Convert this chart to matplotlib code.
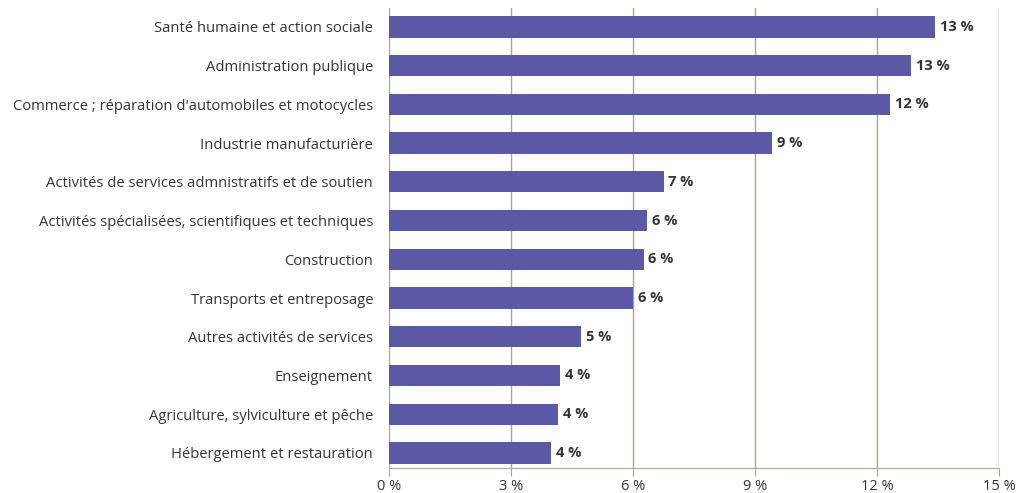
import matplotlib
matplotlib.use("Agg")
import matplotlib.pyplot as plt

plt.rcParams["font.family"] = ["Open Sans", "DejaVu Sans"]

# Secteurs (du haut vers le bas) et part en %
secteurs = [
    "Santé humaine et action sociale",
    "Administration publique",
    "Commerce ; réparation d'automobiles et motocycles",
    "Industrie manufacturière",
    "Activités de services admnistratifs et de soutien",
    "Activités spécialisées, scientifiques et techniques",
    "Construction",
    "Transports et entreposage",
    "Autres activités de services",
    "Enseignement",
    "Agriculture, sylviculture et pêche",
    "Hébergement et restauration",
]
parts = [13.42, 12.83, 12.32, 9.41, 6.75, 6.35, 6.26, 6.01, 4.73, 4.21, 4.16, 3.99]
ticks = [0, 3, 6, 9, 12, 15]

bar_color = "#5b59a6"
grid_color = "#aca68c"
text_color = "#333333"

fig = plt.figure(figsize=(10.19, 4.93), dpi=100)
ax = fig.add_axes([0.3818, 0.0507, 0.5986, 0.9331])

y = list(range(len(secteurs)))[::-1]
ax.barh(y, parts, height=0.55, color=bar_color, zorder=3)

for yi, v in zip(y, parts):
    ax.text(v + 0.12, yi, f"{round(v):.0f} %", va="center", ha="left",
            fontsize=10.5, fontweight="bold", color=text_color)

ax.set_xlim(0, 15)
ax.set_ylim(-0.39, 11.49)
ax.set_xticks(ticks)
ax.set_xticklabels([f"{t} %" for t in ticks], fontsize=10.5, color=text_color)
ax.set_yticks(y)
ax.set_yticklabels(secteurs, fontsize=10.6, color=text_color)

ax.xaxis.grid(True, color=grid_color, linewidth=1, zorder=0)
for s in ["top", "right", "left"]:
    ax.spines[s].set_visible(False)
ax.spines["bottom"].set_color(grid_color)
ax.tick_params(axis="y", length=0, pad=11.5)
ax.tick_params(axis="x", length=6, color=grid_color, pad=2)

fig.savefig("out.png", dpi=100)
